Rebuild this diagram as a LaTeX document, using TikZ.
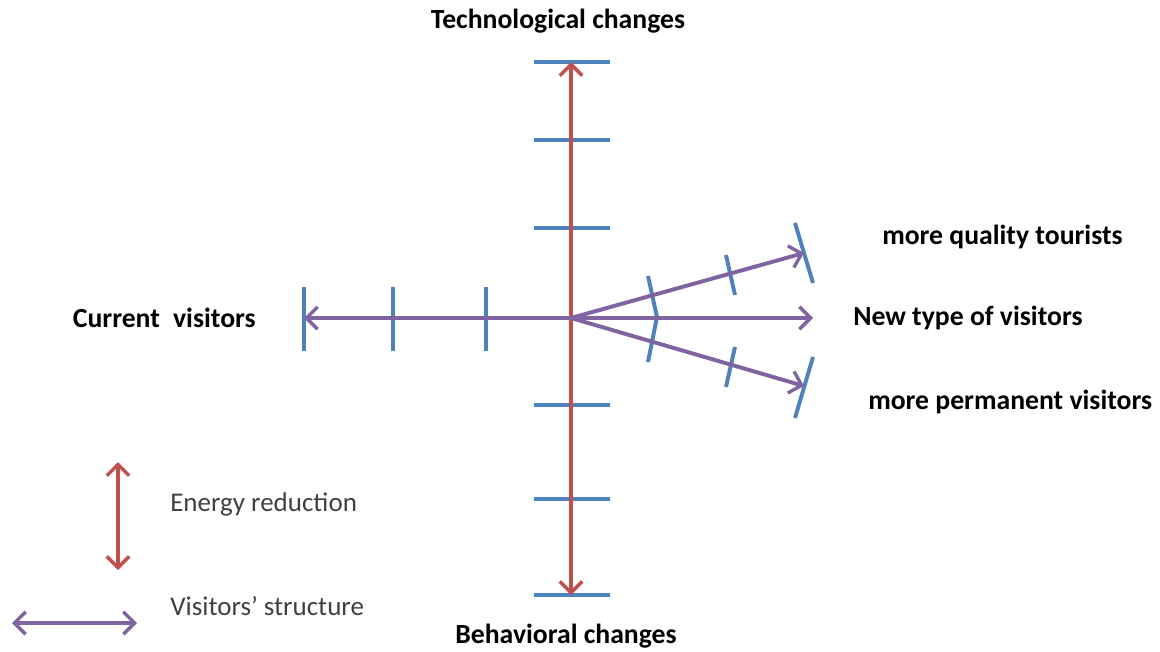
\documentclass[tikz,border=0pt]{standalone}
\usepackage{fontspec}
\setmainfont{Carlito}
\usetikzlibrary{arrows.meta}
\definecolor{axisred}{HTML}{C0504D}
\definecolor{visitpurple}{HTML}{8064A2}
\definecolor{tickblue}{HTML}{4F81BD}
\definecolor{legendgray}{HTML}{404040}
\tikzset{
  energy/.style={draw=axisred,line width=2.8pt,{Straight Barb[length=8pt,width=16pt,line width=2.4pt]}-{Straight Barb[length=8pt,width=16pt,line width=2.4pt]}},
  visit/.style={draw=visitpurple,line width=2.8pt,-{Straight Barb[length=8pt,width=16pt,line width=2.4pt]}},
  visitboth/.style={visit,{Straight Barb[length=8pt,width=16pt,line width=2.4pt]}-{Straight Barb[length=8pt,width=16pt,line width=2.4pt]}},
  tickmark/.style={draw=tickblue,line width=2.8pt},
  axislabel/.style={font=\fontsize{19.7}{22}\selectfont\bfseries,inner sep=0pt},
  legendlabel/.style={font=\fontsize{19.2}{22}\selectfont,text=legendgray,inner sep=0pt,anchor=west}
}
\begin{document}
\begin{tikzpicture}[x=0.025cm,y=-0.025cm]
\useasboundingbox (0,0) rectangle (1160,652);
% origin and arrow ends
\coordinate (o) at (571,318);
\coordinate (top) at (571,62);
\coordinate (bottom) at (571,595);
\coordinate (left) at (304,318);
\coordinate (quality) at (804,253);
\coordinate (newtype) at (813,318);
\coordinate (permanent) at (804,386);
% ticks on the vertical axis
\foreach \y in {62,140,228,405,499,595}
  \draw[tickmark] (534,\y) -- (610,\y);
% ticks on the left axis
\foreach \x in {304,393,486}
  \draw[tickmark] (\x,287) -- (\x,351);
% ticks on the right fan
\draw[tickmark] (648,276) -- (657,317) -- (648,362);
\draw[tickmark] (726,255) -- (735,295);
\draw[tickmark] (735,347) -- (726,387);
\draw[tickmark] (795,223) -- (813,283);
\draw[tickmark] (813,357) -- (795,418);
% axes
\draw[energy] (bottom) -- (top);
\draw[visit] (o) -- (left);
\draw[visit] (o) -- (quality);
\draw[visit] (o) -- (newtype);
\draw[visit] (o) -- (permanent);
% labels
\node[axislabel] (techlbl) at (558,21) {Technological changes};
\node[axislabel] (behavlbl) at (566,636) {Behavioral changes};
\node[axislabel,anchor=east] (currentlbl) at (256,318) {Current\hspace{0.25em} visitors};
\node[axislabel,anchor=west] (newlbl) at (853,318) {New type of visitors};
\node[axislabel,anchor=west] (qualitylbl) at (882,237) {more quality tourists};
\node[axislabel,anchor=west] (permlbl) at (868,402) {more permanent visitors};
% legend
\coordinate (enup) at (118,462);
\coordinate (endown) at (118,570);
\coordinate (vsleft) at (12,623);
\coordinate (vsright) at (137,623);
\draw[energy] (endown) -- (enup);
\draw[visitboth] (vsleft) -- (vsright);
\node[legendlabel] (energylbl) at (170,504) {Energy reduction};
\node[legendlabel] (structlbl) at (170,606) {Visitors’ structure};
\end{tikzpicture}
\end{document}
